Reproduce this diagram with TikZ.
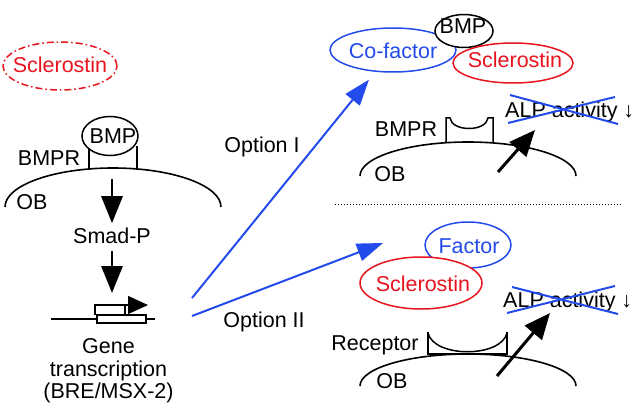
\documentclass[tikz,border=0pt]{standalone}
\usepackage{fontspec}
\setmainfont{Liberation Sans}
\usetikzlibrary{arrows.meta,shapes.geometric}
\definecolor{myblue}{RGB}{35,75,235}
\definecolor{myred}{RGB}{232,20,30}
\begin{document}
\begin{tikzpicture}[x=1pt,y=-1pt,
  txt/.style={font=\fontsize{21.5}{25}\selectfont, inner sep=0pt, anchor=base},
  ell/.style={ellipse, draw, line width=1.5pt, inner sep=0pt},
  mem/.style={line width=1.6pt},
  rec/.style={line width=1.5pt},
  bigarrow/.style={line width=2.8pt, -{Triangle[width=21pt,length=27pt]}},
  diagarrow/.style={line width=3pt, -{Triangle[width=22pt,length=26pt]}},
  bluearrow/.style={draw=myblue, line width=2pt, -{Triangle[width=18pt,length=26pt]}},
  cross/.style={draw=myblue, line width=2pt}
]
\useasboundingbox (0,0) rectangle (640,409);

% ---------- left part ----------
\node[ell, draw=myred, dash pattern=on 7pt off 3pt on 1.5pt off 3pt,
      minimum width=114pt, minimum height=48pt] (scl0) at (60,66) {};
\node[txt, text=myred] (scl0t) at (60,73) {Sclerostin};

\draw[rec] (89,146) -- (89,170);
\draw[rec] (137,146) -- (137,170);
\node[ell, fill=white, minimum width=56pt, minimum height=39pt] (bmp1) at (110,136) {};
\node[txt] (bmp1t) at (113,143) {BMP};
\node[txt] (bmpr1) at (49,165) {BMPR};
\draw[mem] (5,207) arc[start angle=180, end angle=0, x radius=108pt, y radius=39pt];
\node[txt] (ob1) at (32,209) {OB};

\coordinate (m1) at (112,179);
\node[txt, inner sep=4pt] (smad) at (112,243) {Smad-P};
\coordinate (prom) at (112,293);
\draw[bigarrow] (m1) -- (smad);
\draw[bigarrow, shorten <=4pt] (smad) -- (prom);

% gene
\draw[line width=1.3pt] (51,319) -- (155,319);
\draw[line width=1.3pt, fill=white] (97,315) rectangle (146,323);
\draw[line width=1.3pt] (125,305) -- (125,315);
\draw[line width=1.3pt, -{Triangle[width=18pt,length=20pt]}] (95,315) -- (95,305) -- (148,305);
\node[txt] (gene1) at (108.5,353) {Gene};
\node[txt] (gene2) at (108.5,376.5) {transcription};
\node[txt] (gene3) at (108.5,398) {(BRE/MSX-2)};

% options
\node[txt] (opt1) at (262,153) {Option I};
\node[txt] (opt2) at (264,327) {Option II};

% ---------- top right ----------
\node[ell, draw=myblue, fill=white, minimum width=126pt, minimum height=44pt] (cof) at (393,50) {};
\node[ell, fill=white, minimum width=58pt, minimum height=33pt] (bmp2) at (464,31) {};
\node[ell, draw=myred, fill=white, minimum width=120pt, minimum height=40pt] (scl1) at (513,63) {};
\node[txt, text=myblue] (coft) at (393,59) {Co-factor};
\node[txt] (bmp2t) at (463,34) {BMP};
\node[txt, text=myred] (scl1t) at (515,68) {Sclerostin};

\node[txt] (bmpr2) at (406,137) {BMPR};
\draw[rec] (446,143) -- (446,118) -- (450,118) .. controls (452,132) and (486,132) .. (488,118) -- (493,118) -- (493,143);
\draw[mem] (360,176) arc[start angle=180, end angle=0, x radius=108pt, y radius=34pt];
\node[txt] (ob2) at (390,182) {OB};

\node[txt, anchor=base west] (alp1) at (505,118) {ALP activity ↓};
\coordinate (c1a) at (510,95);  \coordinate (c1b) at (618,124);
\coordinate (c1c) at (508,123); \coordinate (c1d) at (615,97);
\draw[cross] (c1a) -- (c1b);
\draw[cross] (c1c) -- (c1d);
\coordinate (a1s) at (498,172); \coordinate (a1e) at (535,130);
\draw[diagarrow] (a1s) -- (a1e);

% dotted separator
\coordinate (d1) at (335,204); \coordinate (d2) at (622,204);
\draw[line width=1pt, dash pattern=on 1pt off 2pt] (d1) -- (d2);

% ---------- bottom right ----------
\node[ell, draw=myblue, fill=white, minimum width=86pt, minimum height=46pt] (fac) at (468,245) {};
\node[ell, draw=myred, fill=white, minimum width=122pt, minimum height=52pt] (scl2) at (421,283) {};
\node[txt, text=myblue] (fact) at (469,253) {Factor};
\node[txt, text=myred] (scl2t) at (423,291) {Sclerostin};

\node[txt] (recept) at (375,350) {Receptor};
\draw[rec] (428,332) -- (428,354) -- (507,354) -- (507,332);
\draw[rec] (428,333) .. controls (434,358) and (501,358) .. (507,333);
\draw[mem] (360,386) arc[start angle=180, end angle=0, x radius=108pt, y radius=32pt];
\node[txt] (ob3) at (392,388) {OB};

\node[txt, anchor=base west] (alp2) at (503,307) {ALP activity ↓};
\coordinate (c2a) at (507,313); \coordinate (c2b) at (615,286);
\coordinate (c2c) at (512,287); \coordinate (c2d) at (618,314);
\draw[cross] (c2a) -- (c2b);
\draw[cross] (c2c) -- (c2d);
\coordinate (a2s) at (497,376); \coordinate (a2e) at (550,313);
\draw[diagarrow] (a2s) -- (a2e);

% option arrows
\coordinate (o1s) at (192,298);
\coordinate (o2s) at (192,316); \coordinate (o2e) at (383,243);
\draw[bluearrow, shorten >=10pt] (o1s) -- (cof);
\draw[bluearrow] (o2s) -- (o2e);
\end{tikzpicture}
\end{document}
